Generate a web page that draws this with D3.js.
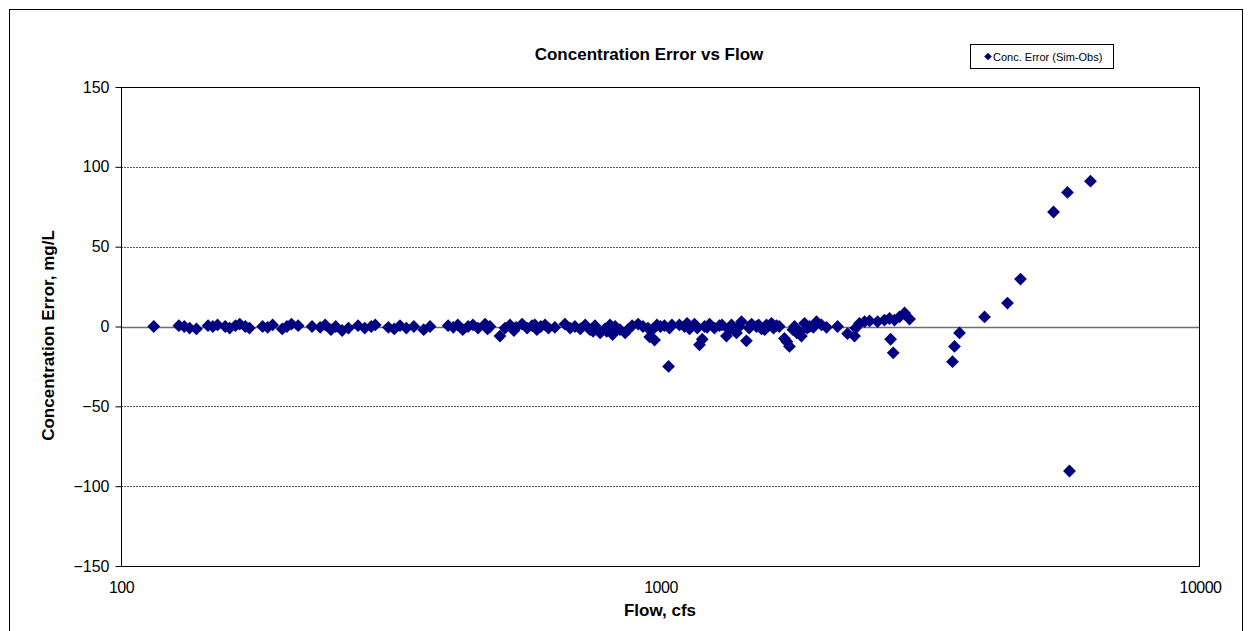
<!DOCTYPE html>
<html>
<head>
<meta charset="utf-8">
<script src="https://cdn.jsdelivr.net/npm/d3@7"></script>
<style>
  html, body { margin: 0; padding: 0; background: #fff; }
  svg { display: block; font-family: "Liberation Sans", Arial, sans-serif; }
</style>
</head>
<body>
<svg id="chart" width="1250" height="631"></svg>
<script>
// ---- Data ----
const flows = [
  115, 128, 131, 134, 138, 145, 148, 151, 156, 159, 163, 166, 170, 173, 183, 187, 191, 199, 203, 207,
  213, 226, 234, 239, 245, 250, 257, 264, 275, 283, 291, 296, 313, 321, 329, 338, 349, 364, 374, 404,
  413, 421, 430, 440, 449, 459, 473, 478, 483, 504, 515, 526, 535, 540, 554, 566, 578, 585, 590, 600,
  611, 620, 637, 665, 680, 694, 710, 725, 740, 750, 756, 773, 789, 795, 806, 815, 824, 841, 860, 870,
  886, 909, 928, 948, 955, 969, 975, 985,
  1000, 1017, 1039, 1050, 1035, 1084, 1108, 1120, 1132, 1156, 1170, 1181, 1195, 1207, 1220, 1233, 1259, 1286, 1300, 1325,
  1340, 1354, 1383, 1400, 1413, 1443, 1460, 1475, 1506, 1520, 1539, 1560, 1572, 1606, 1620, 1641, 1660, 1697, 1715, 1734,
  1760, 1772, 1790, 1810, 1825, 1849, 1870, 1889, 1920, 1946, 1988, 2031, 2129, 2222, 2289, 2300, 2338, 2389, 2441, 2525,
  2601, 2657, 2670, 2700, 2715, 2773, 2834, 2895,
  3477, 3507, 3583, 3987, 4397, 4648, 5352, 5680, 5729, 6266
];
const errors = [
  0, 0.5, 0, -1, -1.5, 0.5, 0, 1, 0, -1, 0.5, 1.5, 0, -1, 0, -0.5, 1, -1.5, 0, 1.5,
  0.5, 0, -0.5, 1, -2, 0, -2.5, -1, 0.5, -1, 0, 1, -0.5, -1.5, 0.5, -1, 0, -2, 0, 0.5,
  -0.5, 1, -2, 0, 1, -1, 1.5, -1.5, 0, -6, -1, 1, -2.5, -0.5, 1.5, -1, 0.5, 1, -2, 0,
  1, -1, -0.5, 1.5, -1, 0, -1.5, 1, -2, -3, 0.5, -4, -1.5, -3, 1, -5, 0, -2, -4, -2,
  0.5, 1.5, 0, -1, -6.5, -1.5, -8.5, 1,
  0, 0.5, -1, 1, -25, 1, 0, 2, -1.5, 1.5, -1, -11.5, -8, 0, -0.5, 1.5, -1, 0.5, 1, -6,
  -2, 1, -4, 0, 3, -9, -1, 1.5, 0, 1, -1.5, -2, 1, 2, -1, 0.5, 0, -7.5, -9.5, -12.5,
  -2, 0, -4, -3.5, -6, 2, -1, 0, -0.5, 3, 1, -0.5, 0, -4.5, -6, -1, 2, 3, 3.5, 3,
  4, 5, -8, -16.5, 4, 6, 8.5, 4.7,
  -22, -12.5, -4, 6, 14.7, 29.7, 71.7, 84, -90.5, 91
];
const yTicks = [150, 100, 50, 0, -50, -100, -150];
const xTicks = [100, 1000, 10000];
const gridValues = [100, 50, -50, -100];

const title = "Concentration Error vs Flow";
const xTitle = "Flow, cfs";
const yTitle = "Concentration Error, mg/L";
const seriesName = "Conc. Error (Sim-Obs)";

// ---- Layout ----
const svg = d3.select("#chart");
const L = 121, R = 1200, T = 87, B = 566;
const markerColor = "#000080";

const x = d3.scaleLog().domain([100, 10000]).range([L, R]);
const y = d3.scaleLinear().domain([-150, 150]).range([B, T]);

// outer chart border
svg.append("rect").attr("x", 9.5).attr("y", 9.5).attr("width", 1233).attr("height", 640)
  .attr("fill", "#fff").attr("stroke", "#000").attr("stroke-width", 1);

// gridlines
svg.append("g").selectAll("line").data(gridValues).join("line")
  .attr("x1", L).attr("x2", R)
  .attr("y1", d => Math.round(y(d)) + 0.5).attr("y2", d => Math.round(y(d)) + 0.5)
  .attr("stroke", "#555").attr("stroke-width", 1).attr("stroke-dasharray", "2,1");

// zero line
svg.append("line").attr("x1", L).attr("x2", R)
  .attr("y1", Math.round(y(0)) + 0.5).attr("y2", Math.round(y(0)) + 0.5)
  .attr("stroke", "#6e6e6e").attr("stroke-width", 1.5);

// plot border
svg.append("rect").attr("x", L + 0.5).attr("y", T + 0.5)
  .attr("width", R - L - 1).attr("height", B - T)
  .attr("fill", "none").attr("stroke", "#000").attr("stroke-width", 1);

// y axis
const yAxis = d3.axisLeft(y).tickValues(yTicks).tickSize(6).tickPadding(6)
  .tickFormat(d3.format("d"));
const gy = svg.append("g").attr("transform", `translate(${L + 0.5},0)`).call(yAxis);
gy.select(".domain").remove();
gy.selectAll(".tick line").attr("stroke", "#000");
gy.selectAll(".tick text").attr("font-size", 16).attr("fill", "#000")
  .attr("font-family", "Liberation Sans, Arial, sans-serif");

// x axis
const xAxis = d3.axisBottom(x).tickValues(xTicks).tickSize(0).tickPadding(16)
  .tickFormat(d3.format("d"));
const gx = svg.append("g").attr("transform", `translate(0,${B})`).call(xAxis);
gx.select(".domain").remove();
gx.selectAll(".tick text").attr("font-size", 16).attr("fill", "#000")
  .attr("font-family", "Liberation Sans, Arial, sans-serif")
  .attr("letter-spacing", -0.5);

// markers
const pts = flows.map((f, i) => ({ f, e: errors[i] }));
const sym = d3.symbol().type(d3.symbolSquare).size(82);
svg.append("g").selectAll("path").data(pts).join("path")
  .attr("d", sym)
  .attr("transform", d => `translate(${x(d.f)},${y(d.e)}) rotate(45)`)
  .attr("fill", markerColor);

// title
svg.append("text").attr("x", 649).attr("y", 60).attr("text-anchor", "middle")
  .attr("font-size", 17).attr("font-weight", "bold").text(title);

// axis titles
svg.append("text").attr("x", 660).attr("y", 616).attr("text-anchor", "middle")
  .attr("font-size", 17).attr("font-weight", "bold").text(xTitle);
svg.append("text").attr("transform", `translate(54,${(T + B) / 2 + 9}) rotate(-90)`)
  .attr("text-anchor", "middle").attr("font-size", 17).attr("font-weight", "bold").text(yTitle);

// legend
const lg = svg.append("g");
lg.append("rect").attr("x", 970.5).attr("y", 44.5).attr("width", 143).attr("height", 24)
  .attr("fill", "#fff").attr("stroke", "#000").attr("stroke-width", 1);
lg.append("path").attr("d", d3.symbol().type(d3.symbolSquare).size(30))
  .attr("transform", "translate(988,56.5) rotate(45)").attr("fill", markerColor);
lg.append("text").attr("x", 993).attr("y", 60.5).attr("font-size", 11).text(seriesName);
</script>
</body>
</html>
